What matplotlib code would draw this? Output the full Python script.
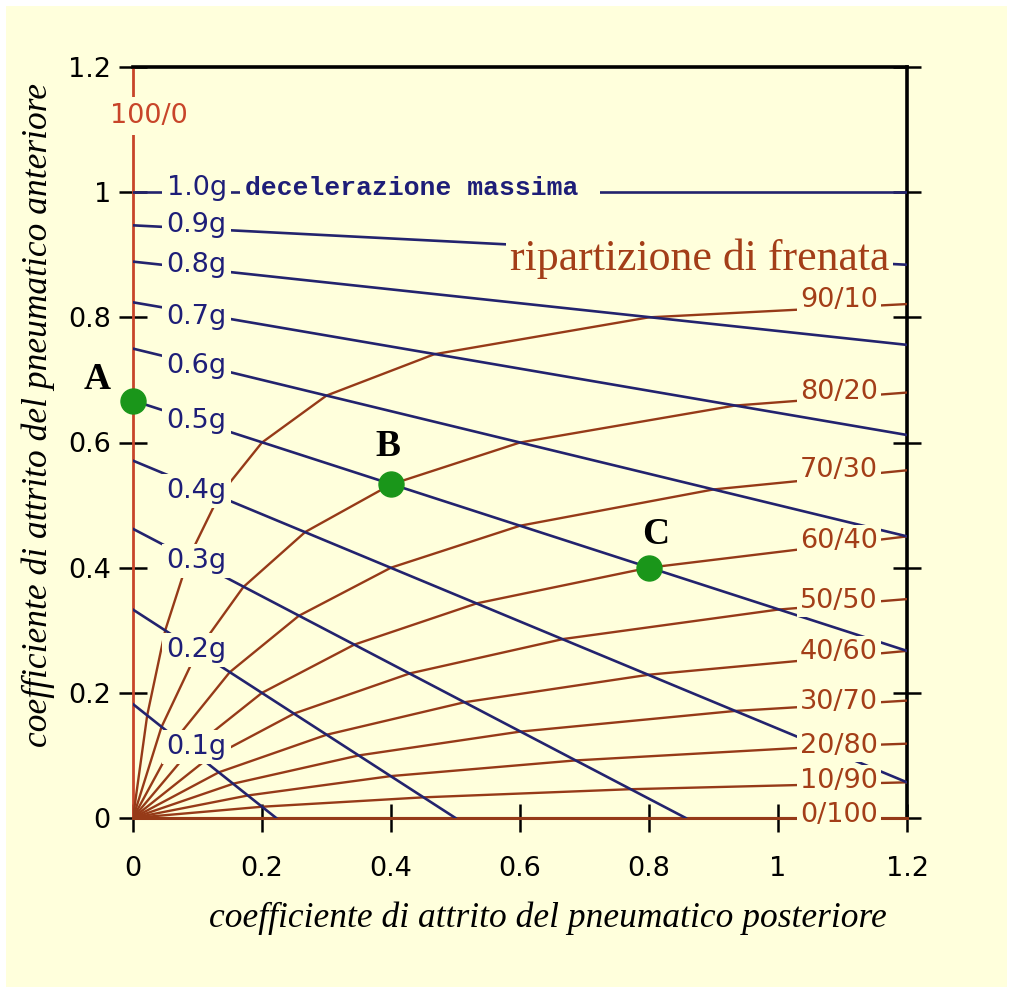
import matplotlib
matplotlib.use("Agg")
import matplotlib.pyplot as plt
import numpy as np
from matplotlib.patches import Rectangle

# ---------------- data ----------------
tick_values = [0, 0.2, 0.4, 0.6, 0.8, 1.0, 1.2]
tick_labels = ["0", "0.2", "0.4", "0.6", "0.8", "1", "1.2"]

# iso-deceleration lines (front friction at rear=0, and end point)
decel_labels = ["0.1g", "0.2g", "0.3g", "0.4g", "0.5g", "0.6g", "0.7g", "0.8g", "0.9g"]
decel_front_start = [0.182, 0.333, 0.462, 0.571, 0.667, 0.750, 0.824, 0.889, 0.947, 1.000]
decel_rear_end = [0.222, 0.500, 0.857, 1.2, 1.2, 1.2, 1.2, 1.2, 1.2, 1.2]
decel_front_end = [0.0, 0.0, 0.0, 0.057, 0.267, 0.450, 0.612, 0.756, 0.884, 1.000]
decel_label_y = [0.109, 0.265, 0.407, 0.519, 0.631, 0.719, 0.796, 0.879, 0.943]

# brake split curves (rear friction, front friction)
split_labels = ["90/10", "80/20", "70/30", "60/40", "50/50", "40/60", "30/70", "20/80", "10/90"]
split_rear = [
    [0, 0.022, 0.050, 0.086, 0.133, 0.200, 0.300, 0.467, 0.800, 1.800],
    [0, 0.044, 0.100, 0.171, 0.267, 0.400, 0.600, 0.933, 1.600],
    [0, 0.067, 0.150, 0.257, 0.400, 0.600, 0.900, 1.400],
    [0, 0.089, 0.200, 0.343, 0.533, 0.800, 1.200],
    [0, 0.111, 0.250, 0.429, 0.667, 1.000, 1.500],
    [0, 0.133, 0.300, 0.514, 0.800, 1.200],
    [0, 0.156, 0.350, 0.600, 0.933, 1.400],
    [0, 0.178, 0.400, 0.686, 1.067, 1.600],
    [0, 0.200, 0.450, 0.771, 1.200],
]
split_front = [
    [0, 0.164, 0.300, 0.415, 0.514, 0.600, 0.675, 0.741, 0.800, 0.853],
    [0, 0.145, 0.267, 0.369, 0.457, 0.533, 0.600, 0.659, 0.711],
    [0, 0.127, 0.233, 0.323, 0.400, 0.467, 0.525, 0.576],
    [0, 0.109, 0.200, 0.277, 0.343, 0.400, 0.450],
    [0, 0.091, 0.167, 0.231, 0.286, 0.333, 0.375],
    [0, 0.073, 0.133, 0.185, 0.229, 0.267],
    [0, 0.055, 0.100, 0.138, 0.171, 0.200],
    [0, 0.036, 0.067, 0.092, 0.114, 0.133],
    [0, 0.018, 0.033, 0.046, 0.057],
]
split_label_y = [0.828, 0.681, 0.556, 0.443, 0.347, 0.265, 0.185, 0.115, 0.059]

point_names = ["A", "B", "C"]
point_rear = [0.0, 0.4, 0.8]
point_front = [0.667, 0.533, 0.400]

# ---------------- style ----------------
BG = "#FFFFDC"
BLUE = "#23236e"
BLUE_TXT = "#1e1e78"
RED = "#963a18"
RED_AXIS = "#c8452a"
RED_TXT = "#a33e18"
GREEN = "#1a961a"

fig = plt.figure(figsize=(10.13, 9.93), dpi=100, facecolor="white")
fig.patches.append(Rectangle((6 / 1013, 6 / 993), 1001 / 1013, 981 / 993,
                             transform=fig.transFigure, facecolor=BG,
                             edgecolor="none", zorder=-10))
ax = fig.add_axes([133 / 1013, 1 - 818 / 993, 774 / 1013, 751 / 993])
ax.set_zorder(2)
ax.set_facecolor(BG)
ax.set_xlim(0, 1.2)
ax.set_ylim(0, 1.2)

# brake split curves
for r, f in zip(split_rear, split_front):
    ax.plot(r, f, color=RED, lw=1.7, zorder=3, solid_joinstyle="miter")
# 0/100 along bottom
ax.axhline(0, color=RED, lw=2.2, zorder=3)

# iso-deceleration lines
for f0, re, fe in zip(decel_front_start, decel_rear_end, decel_front_end):
    ax.plot([0, re], [f0, fe], color=BLUE, lw=1.9, zorder=4)

# deceleration labels
lab_x = 0.052
for lab, yy in zip(decel_labels, decel_label_y):
    ax.text(lab_x, yy + 0.004, lab, ha="left", va="center", fontsize=19.5,
            color=BLUE_TXT, family="DejaVu Sans", zorder=6,
            bbox=dict(boxstyle="square,pad=0.15", fc=BG, ec="none"))
ax.text(lab_x, 1.006, "1.0g", ha="left", va="center", fontsize=19.5,
        color=BLUE_TXT, family="DejaVu Sans", zorder=6,
        bbox=dict(boxstyle="square,pad=0.15", fc=BG, ec="none"))
ax.text(0.174, 1.006, "decelerazione massima ", ha="left", va="center", fontsize=19,
        color=BLUE_TXT, family="Liberation Mono", fontweight="bold", zorder=6,
        bbox=dict(boxstyle="square,pad=0.2", fc=BG, ec="none"))

# split labels
for lab, yy in zip(split_labels, split_label_y):
    ax.text(1.034, yy, lab, ha="left", va="center", fontsize=19.5,
            color=RED_TXT, family="DejaVu Sans", zorder=6,
            bbox=dict(boxstyle="square,pad=0.12", fc=BG, ec="none"))
ax.text(1.034, 0.004, "0/100", ha="left", va="center", fontsize=19.5,
        color=RED_TXT, family="DejaVu Sans", zorder=6,
        bbox=dict(boxstyle="square,pad=0.12", fc=BG, ec="none"))
ax.text(-0.036, 1.122, "100/0", ha="left", va="center", fontsize=19.5,
        color=RED_AXIS, family="DejaVu Sans", zorder=6, clip_on=False,
        bbox=dict(boxstyle="square,pad=0.22", fc=BG, ec="none"))

ax.text(0.5845, 0.8757, "ripartizione di frenata", ha="left", va="baseline",
        fontsize=31.6, color=RED_TXT, family="Liberation Serif", zorder=6,
        bbox=dict(boxstyle="square,pad=0.08", fc=BG, ec="none"))

# points
ax.plot(point_rear, point_front, "o", ms=18, color=GREEN, zorder=8, clip_on=False)
offsets = [(-36, 21), (-3, 38), (7, 33)]
for name, x, y, off in zip(point_names, point_rear, point_front, offsets):
    ax.annotate(name, (x, y), xytext=off, textcoords="offset pixels",
                ha="center", va="center", fontsize=27, fontweight="bold",
                family="Liberation Serif", color="black", zorder=9,
                annotation_clip=False)

# axes styling
ax.set_xticks(tick_values)
ax.set_xticklabels(tick_labels)
ax.set_yticks(tick_values)
ax.set_yticklabels(tick_labels)
ax.tick_params(axis="both", direction="inout", length=20, width=1.8,
               color="black", labelsize=19.5, labelcolor="black")
ax.tick_params(axis="y", pad=6, right=True)
ax.tick_params(axis="x", pad=17)
for s in ["top", "right"]:
    ax.spines[s].set_color("black")
    ax.spines[s].set_linewidth(2.6)
ax.spines["left"].set_color(RED_AXIS)
ax.spines["left"].set_linewidth(2.0)
ax.spines["bottom"].set_color(RED)
ax.spines["bottom"].set_linewidth(2.2)

fig.text(548 / 1013, 1 - 918 / 993, "coefficiente di attrito del pneumatico posteriore",
         ha="center", va="center", fontsize=25.5, style="italic",
         family="Liberation Serif", color="black")
fig.text(38 / 1013, 1 - 415 / 993, "coefficiente di attrito del pneumatico anteriore",
         ha="center", va="center", fontsize=25.5, style="italic", rotation=90,
         family="Liberation Serif", color="black")

fig.savefig("out.png", dpi=100, facecolor="white")
